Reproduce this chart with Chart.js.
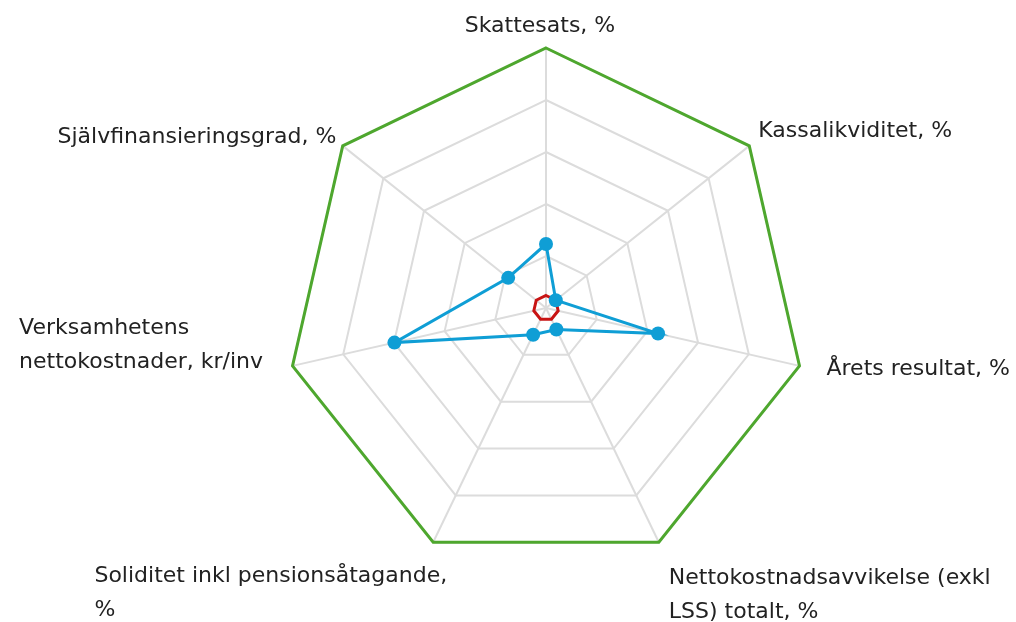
<!DOCTYPE html>
<html>
<head>
<meta charset="utf-8">
<script src="https://cdn.jsdelivr.net/npm/chart.js@4/dist/chart.umd.min.js"></script>
<style>
  html, body { margin: 0; padding: 0; background: #ffffff; }
  #wrap { width: 1016px; height: 622px; position: relative; }
</style>
</head>
<body>
<div id="wrap"><canvas id="c"></canvas></div>
<script>
// ---- Data ----
const categories = [
  ['Skattesats, %'],
  ['Kassalikviditet, %'],
  ['Årets resultat, %'],
  ['Nettokostnadsavvikelse (exkl', 'LSS) totalt, %'],
  ['Soliditet inkl pensionsåtagande,', '%'],
  ['Verksamhetens', 'nettokostnader, kr/inv'],
  ['Självfinansieringsgrad, %']
];
const blueValues  = [1.23, 0.24, 2.21, 0.46, 0.57, 2.99, 0.93];
const redValues   = [0.24, 0.24, 0.24, 0.24, 0.24, 0.24, 0.24];
const greenValues = [5, 5, 5, 5, 5, 5, 5];
const scaleTicks  = [0, 1, 2, 3, 4, 5];

// ---- Label layout (anchor side + offset from the axis end point) ----
const labelLayout = [
  { align: 'center', dx: -6,    dy: -16.3 },
  { align: 'left',   dx: 9,     dy: -9.3 },
  { align: 'left',   dx: 27,    dy: 9 },
  { align: 'left',   dx: 10,    dy: 42 },
  { align: 'right',  dx: 14,    dy: 40 },
  { align: 'right',  dx: -29.5, dy: -31.6 },
  { align: 'right',  dx: -6.3,  dy: -2.7 }
];

const labelPlugin = {
  id: 'excelLabels',
  afterDraw(chart) {
    const scale = chart.scales.r;
    const ctx = chart.ctx;
    ctx.save();
    ctx.font = '22px "DejaVu Sans"';
    ctx.fillStyle = '#222222';
    ctx.textBaseline = 'alphabetic';
    ctx.textAlign = 'left';
    const lineH = 34;
    categories.forEach((lines, i) => {
      const p = scale.getPointPosition(i, scale.drawingArea);
      const lay = labelLayout[i];
      const w = Math.max(...lines.map(l => ctx.measureText(l).width));
      let left;
      if (lay.align === 'left') left = p.x + lay.dx;
      else if (lay.align === 'right') left = p.x + lay.dx - w;
      else left = p.x + lay.dx - w / 2;
      lines.forEach((l, k) => {
        ctx.fillText(l, left, p.y + lay.dy + k * lineH);
      });
    });
    ctx.restore();
  }
};

new Chart(document.getElementById('c'), {
  type: 'radar',
  data: {
    labels: categories,
    datasets: [
      {
        label: 'Kommun',
        data: blueValues,
        borderColor: '#0f9ed5',
        backgroundColor: '#0f9ed5',
        borderWidth: 3,
        pointRadius: 7,
        pointHoverRadius: 7,
        pointBackgroundColor: '#0f9ed5',
        pointBorderWidth: 0,
        fill: false
      },
      {
        label: 'Min',
        data: redValues,
        borderColor: '#c81414',
        borderWidth: 3,
        pointRadius: 0,
        fill: false
      },
      {
        label: 'Max',
        data: greenValues,
        borderColor: '#4ea72e',
        borderWidth: 3,
        pointRadius: 0,
        fill: false
      }
    ]
  },
  options: {
    responsive: true,
    maintainAspectRatio: false,
    animation: false,
    devicePixelRatio: 1,
    layout: { padding: { top: 48, bottom: 54, left: 76, right: 0 } },
    elements: { line: { tension: 0 } },
    plugins: {
      legend: { display: false },
      tooltip: { enabled: false }
    },
    scales: {
      r: {
        min: scaleTicks[0],
        max: scaleTicks[scaleTicks.length - 1],
        ticks: { display: false, stepSize: 1 },
        grid: { color: '#dcdcdc', lineWidth: 2 },
        angleLines: { display: true, color: '#dcdcdc', lineWidth: 2 },
        pointLabels: { display: false }
      }
    }
  },
  plugins: [labelPlugin]
});
</script>
</body>
</html>
